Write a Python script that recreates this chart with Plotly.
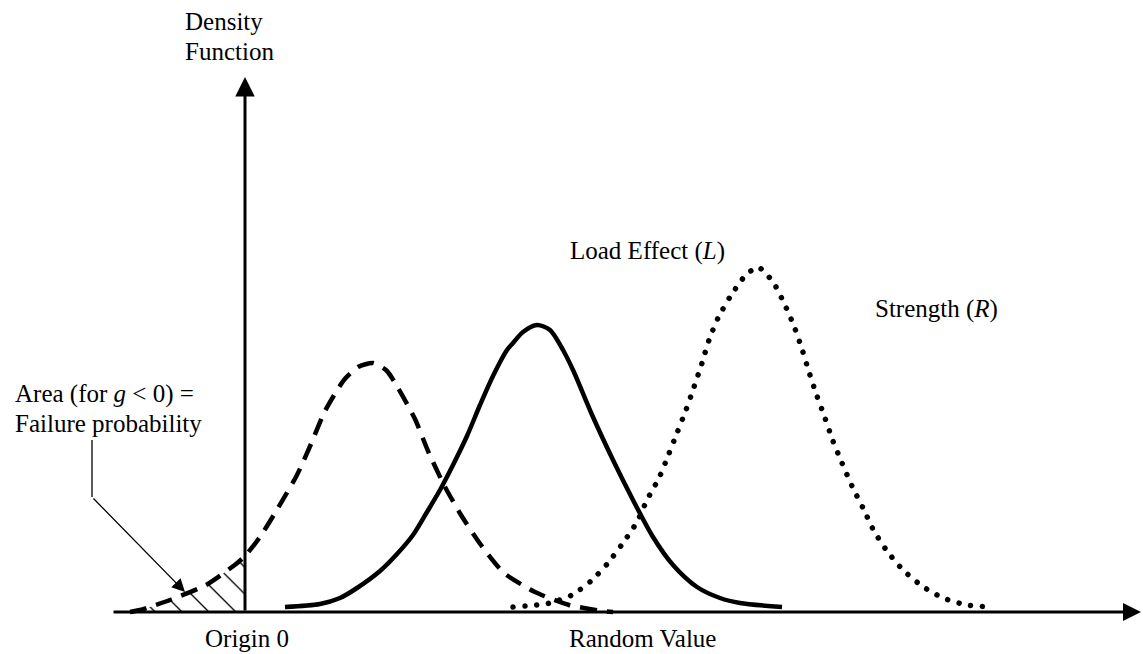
import plotly.graph_objects as go

# Safety margin g = R - L (dashed curve): random value vs density (arbitrary units)
g_x = [-115, -105, -75, -39, -9, 0, 15, 33, 52, 66, 80, 99, 113, 128, 142, 153, 170, 183, 199, 216, 236, 259, 290, 324, 358, 368]
g_y = [0, 2, 12, 27, 48, 56, 75, 104, 137, 168, 201, 232, 245, 249, 241, 224, 193, 161, 127, 97, 67, 39, 20, 7, 1, 0]

# Load effect L (solid curve)
L_x = [40, 75, 95, 112, 135, 152, 168, 182, 195, 208, 222, 235, 248, 262, 268, 278, 292, 305, 318, 328,
       348, 368, 388, 408, 428, 452, 475, 495, 537]
L_y = [5, 8, 14, 24, 41, 58, 77, 100, 122, 147, 176, 207, 236, 262, 269, 280, 287, 282, 262, 242,
       195, 152, 112, 75, 47, 25, 14, 9, 5]

# Strength R (dotted curve)
R_x = [268, 292, 305, 327, 346, 363, 378, 392, 402, 414, 423, 432, 441, 449, 457, 464, 473, 485, 500, 513,
       528, 539, 549, 557, 564, 572, 580, 588, 597, 607, 618, 629, 642, 658, 677, 698, 722, 746]
R_y = [5, 7, 9, 17, 31, 49, 69, 90, 112, 134, 156, 179, 202, 225, 249, 272, 294, 315, 336, 345,
       330, 309, 286, 263, 240, 216, 194, 171, 149, 126, 104, 81, 61, 42, 26, 14, 7, 5]

# Failure region: part of g below zero
fail_x = [v for v in g_x if v <= 0]
fail_y = g_y[:len(fail_x)]

FONT = "Liberation Serif, Times New Roman, serif"

fig = go.Figure()
fig.add_trace(go.Scatter(
    x=fail_x, y=fail_y, mode="lines", line=dict(width=0, shape="spline", smoothing=0.6),
    fill="tozeroy", fillcolor="rgba(0,0,0,0)",
    fillpattern=dict(shape="\\", size=19, solidity=0.07, fgcolor="black", fgopacity=1, bgcolor="rgba(0,0,0,0)"),
    hoverinfo="skip", showlegend=False))
fig.add_trace(go.Scatter(
    x=g_x, y=g_y, mode="lines", name="g",
    line=dict(color="black", width=4.5, dash="17px,10px", shape="spline", smoothing=0.6),
    hoverinfo="skip", showlegend=False))
fig.add_trace(go.Scatter(
    x=L_x, y=L_y, mode="lines", name="L",
    line=dict(color="black", width=4.5, shape="spline", smoothing=0.8),
    hoverinfo="skip", showlegend=False))
fig.add_trace(go.Scatter(
    x=R_x, y=R_y, mode="lines", name="R",
    line=dict(color="black", width=5.5, dash="4px,7.7px", shape="spline", smoothing=0.6),
    hoverinfo="skip", showlegend=False))

ann = []
# axes with arrows
ann.append(dict(x=896, y=0, ax=-133, ay=0, xref="x", yref="y", axref="x", ayref="y", text="",
                showarrow=True, arrowhead=2, arrowsize=1.2, arrowwidth=3, arrowcolor="black", standoff=0))
ann.append(dict(x=0, y=535, ax=0, ay=0, xref="x", yref="y", axref="x", ayref="y", text="",
                showarrow=True, arrowhead=2, arrowsize=1.3, arrowwidth=3, arrowcolor="black", standoff=0))
# pointer to failure area
ann.append(dict(x=-60, y=20, ax=-153, ay=115, xref="x", yref="y", axref="x", ayref="y", text="",
                showarrow=True, arrowhead=2, arrowsize=2, arrowwidth=1.3, arrowcolor="black", standoff=0))

labels = [
    ("Density", -62, 591),
    ("Function", -62, 561),
    ("Area (for <i>g</i> &lt; 0) =", -232, 218),
    ("Failure probability", -232, 189),
    ("Origin 0", -42, -26),
    ("Random Value", 322, -26),
    ("Load Effect (<i>L</i>)", 323, 361),
    ("Strength (<i>R</i>)", 628, 303),
]
for t, x, y in labels:
    ann.append(dict(x=x, y=y, xref="x", yref="y", text=t, showarrow=False, xanchor="left", yanchor="middle",
                    font=dict(family=FONT, size=25, color="black")))

fig.update_layout(
    width=1143, height=654, margin=dict(l=0, r=0, t=0, b=0),
    paper_bgcolor="white", plot_bgcolor="white",
    xaxis=dict(visible=False, range=[-245, 898], fixedrange=True),
    yaxis=dict(visible=False, range=[-42, 612], fixedrange=True),
    annotations=ann,
    shapes=[dict(type="line", xref="x", yref="y", x0=-153, x1=-153, y0=172, y1=115,
                 line=dict(color="black", width=1.3))],
    showlegend=False,
)

post = """
document.body.style.margin = '0';
document.body.style.padding = '0';
document.documentElement.style.overflow = 'hidden';
var gd = document.getElementById('{plot_id}');
gd.querySelectorAll('path.js-line').forEach(function(p){
  var d = p.style.strokeDasharray || '';
  if (d.indexOf('7.7') >= 0) {
    p.style.strokeLinecap = 'round';
    p.style.strokeDasharray = '0.01px, 11.8px';
  }
});
"""
fig.write_html("out.html", config={"displayModeBar": False, "staticPlot": True}, post_script=post)
